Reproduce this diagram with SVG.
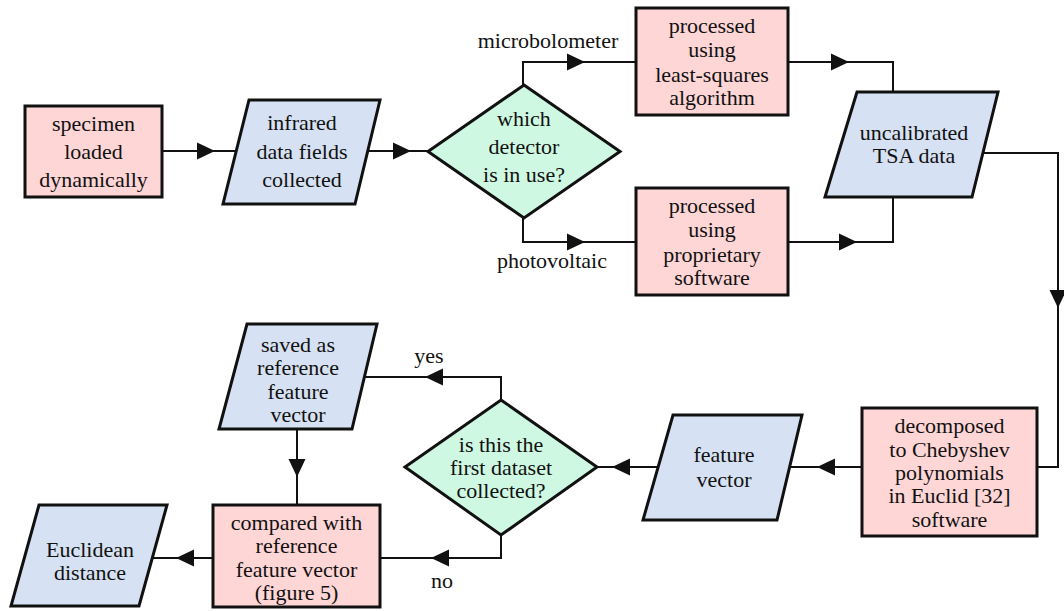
<svg xmlns="http://www.w3.org/2000/svg" xmlns:xlink="http://www.w3.org/1999/xlink" width="1064" height="611" viewBox="0 0 1064 611">
  <style>
    .proc { fill: #ffd6d6; stroke: #111; stroke-width: 3; }
    .data { fill: #d6e2f3; stroke: #111; stroke-width: 3; }
    .dec  { fill: #cff8e2; stroke: #111; stroke-width: 3; }
    .wire { fill: none; stroke: #111; stroke-width: 2; }
    text { font-family: "Liberation Serif", "Times New Roman", Tinos, "Noto Serif", "DejaVu Serif", FreeSerif, Times, Georgia, serif; font-size: 22px; fill: #111; text-anchor: middle; }
  </style>
  <defs>
    <!-- arrowhead pointing along +x, tip at origin -->
    <path id="ah" d="M0,0 L-18,-8.5 L-18,8.5 Z" fill="#111"/>
  </defs>
  <rect width="1064" height="611" fill="#ffffff"/>

  <!-- connectors -->
  <g id="connectors">
    <path class="wire" d="M162,151 H237"/>
    <use xlink:href="#ah" transform="translate(215,151)"/>
    <path class="wire" d="M367,151 H428"/>
    <use xlink:href="#ah" transform="translate(411,151)"/>
    <path class="wire" d="M523,85 V62 H636"/>
    <use xlink:href="#ah" transform="translate(585,62)"/>
    <path class="wire" d="M523,218 V242 H636"/>
    <use xlink:href="#ah" transform="translate(585,242)"/>
    <path class="wire" d="M788,62 H893 V92"/>
    <use xlink:href="#ah" transform="translate(849,62)"/>
    <path class="wire" d="M788,242 H893 V197"/>
    <use xlink:href="#ah" transform="translate(857,242)"/>
    <path class="wire" d="M984,153 H1058 V467 H1037"/>
    <use xlink:href="#ah" transform="translate(1058,308) rotate(90)"/>
    <path class="wire" d="M862,467 H789"/>
    <use xlink:href="#ah" transform="translate(817,467) rotate(180)"/>
    <path class="wire" d="M661,467 H597"/>
    <use xlink:href="#ah" transform="translate(612,467) rotate(180)"/>
    <path class="wire" d="M501,400 V377 H364"/>
    <use xlink:href="#ah" transform="translate(425,377) rotate(180)"/>
    <path class="wire" d="M501,535 V558 H380"/>
    <use xlink:href="#ah" transform="translate(431,558) rotate(180)"/>
    <path class="wire" d="M297,429 V505"/>
    <use xlink:href="#ah" transform="translate(297,477) rotate(90)"/>
    <path class="wire" d="M213,558 H152"/>
    <use xlink:href="#ah" transform="translate(176,558) rotate(180)"/>
    <text x="548" y="48">microbolometer</text>
    <text x="552" y="268">photovoltaic</text>
    <text x="429" y="363">yes</text>
    <text x="442" y="588">no</text>
  </g>

  <g id="specimen">
    <rect class="proc" x="25" y="106" width="137" height="91"/>
    <text x="93.5" y="131">specimen</text>
    <text x="93.5" y="159">loaded</text>
    <text x="93.5" y="187">dynamically</text>
  </g>

  <g id="infrared">
    <polygon class="data" points="249,100 380,100 355,204 223,204"/>
    <text x="302" y="130">infrared</text>
    <text x="302" y="159">data fields</text>
    <text x="302" y="187">collected</text>
  </g>

  <g id="detector">
    <polygon class="dec" points="524,85 620,151.5 524,218 428,151.5"/>
    <text x="524" y="126">which</text>
    <text x="524" y="154">detector</text>
    <text x="524" y="182">is in use?</text>
  </g>

  <g id="least-squares">
    <rect class="proc" x="636" y="8" width="152" height="107"/>
    <text x="712" y="33">processed</text>
    <text x="712" y="57">using</text>
    <text x="712" y="82">least-squares</text>
    <text x="712" y="105">algorithm</text>
  </g>

  <g id="proprietary">
    <rect class="proc" x="636" y="188" width="152" height="107"/>
    <text x="712" y="213">processed</text>
    <text x="712" y="237">using</text>
    <text x="712" y="262">proprietary</text>
    <text x="712" y="285">software</text>
  </g>

  <g id="tsa-data">
    <polygon class="data" points="857,92 998,92 972,197 825,197"/>
    <text x="914" y="140">uncalibrated</text>
    <text x="914" y="163">TSA data</text>
  </g>

  <g id="chebyshev">
    <rect class="proc" x="862" y="408" width="175" height="128"/>
    <text x="949.5" y="433">decomposed</text>
    <text x="949.5" y="457">to Chebyshev</text>
    <text x="949.5" y="480">polynomials</text>
    <text x="949.5" y="503">in Euclid [32]</text>
    <text x="949.5" y="527">software</text>
  </g>

  <g id="feature-vector">
    <polygon class="data" points="673,415 802,415 777,520 643,520"/>
    <text x="724" y="462">feature</text>
    <text x="724" y="487">vector</text>
  </g>

  <g id="first-dataset">
    <polygon class="dec" points="501,400 597,467 501,535 405,467"/>
    <text x="501" y="452">is this the</text>
    <text x="501" y="475">first dataset</text>
    <text x="501" y="498">collected?</text>
  </g>

  <g id="saved-reference">
    <polygon class="data" points="247,324 377,324 352,429 219,429"/>
    <text x="298" y="352">saved as</text>
    <text x="298" y="375">reference</text>
    <text x="298" y="399">feature</text>
    <text x="298" y="422">vector</text>
  </g>

  <g id="compared">
    <rect class="proc" x="213" y="505" width="167" height="102"/>
    <text x="296.5" y="530">compared with</text>
    <text x="296.5" y="553">reference</text>
    <text x="296.5" y="577">feature vector</text>
    <text x="296.5" y="600">(figure 5)</text>
  </g>

  <g id="euclidean">
    <polygon class="data" points="39,505 167,505 139,606 11,606"/>
    <text x="90" y="557">Euclidean</text>
    <text x="90" y="580">distance</text>
  </g>
</svg>
